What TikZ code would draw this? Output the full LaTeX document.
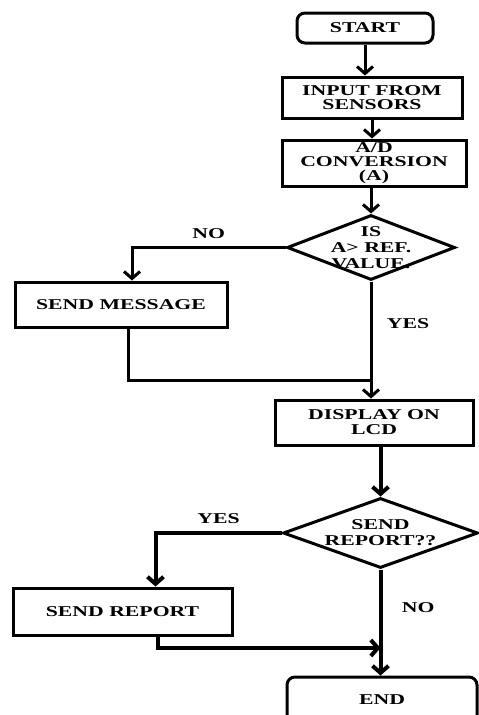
\documentclass[tikz,border=0pt]{standalone}
\usepackage{fontspec}
\setmainfont{Liberation Serif}[FakeStretch=1.45]
\usetikzlibrary{shapes.geometric,arrows.meta}

\begin{document}
\begin{tikzpicture}[x=1pt,y=-1pt,>={Straight Barb[length=7pt,width=16pt]},
  every node/.style={font=\bfseries\fontsize{15}{14}\selectfont, align=center},
  stepbox/.style={draw, line width=3pt, inner sep=0pt},
  termbox/.style={stepbox, rounded corners=8pt},
  decide/.style={diamond, draw, line width=3pt, inner sep=-6pt, aspect=2.7},
  flow/.style={line width=3pt},
  heavyflow/.style={line width=4pt}]
   \clip (0,0) rectangle (479,715);

   \node[termbox, minimum width=136pt, minimum height=30pt] (start) at (365,28) {START};
   \node[stepbox, minimum width=180pt, minimum height=41pt] (input) at (372,97.5) {INPUT FROM\\SENSORS};
   \node[stepbox, minimum width=184pt, minimum height=46pt] (conv) at (374,163) {A/D\\CONVERSION\\(A)};
   \node[decide, minimum width=168pt, minimum height=65pt,
         font=\bfseries\fontsize{15}{16}\selectfont] (isref) at (371,247.5) {IS\\A> REF.\\VALUE.};
   \node[stepbox, minimum width=212pt, minimum height=45pt] (sendmsg) at (121,304.5) {SEND MESSAGE};
   \node[stepbox, minimum width=198pt, minimum height=45pt,
         font=\bfseries\fontsize{15}{15}\selectfont] (display) at (374,422.5) {DISPLAY ON\\LCD};
   \node[decide, minimum width=195pt, minimum height=70pt,
         font=\bfseries\fontsize{15}{16}\selectfont] (rep) at (380.5,533) {SEND\\REPORT??};
   \node[stepbox, minimum width=219pt, minimum height=47pt] (sendrep) at (122.5,611.5) {SEND REPORT};
   \node[termbox, minimum width=190pt, minimum height=46pt] (end) at (382,700) {END};

   \coordinate (j1) at (371,380);
   \coordinate (j2) at (380.5,648);

   % upper part
   \draw[flow,->] (start.south) -- (start.south |- input.north);
   \draw[flow,->] (input.south) -- (input.south |- conv.north);
   \draw[flow,->] (isref.north |- conv.south) -- (isref.north);
   \draw[flow,->] (isref.west) -| node[pos=0.25,above=4pt] {NO} ([xshift=11pt]sendmsg.north);
   \draw[flow,->] (isref.south) -- node[pos=0.36,right=11pt] {YES} (isref.south |- display.north);
   \draw[flow] ([xshift=7pt]sendmsg.south) |- (j1);

   % lower part
   \draw[heavyflow,->] (rep.north |- display.south) -- (rep.north);
   \draw[heavyflow,->] (rep.west) -| node[pos=0.25,above=4pt] {YES} ([xshift=33pt]sendrep.north);
   \draw[heavyflow,->] (rep.south) -- node[pos=0.36,right=16pt] {NO} (rep.south |- end.north);
   \draw[heavyflow,->] ([xshift=35pt]sendrep.south) |- (j2);
\end{tikzpicture}
\end{document}
